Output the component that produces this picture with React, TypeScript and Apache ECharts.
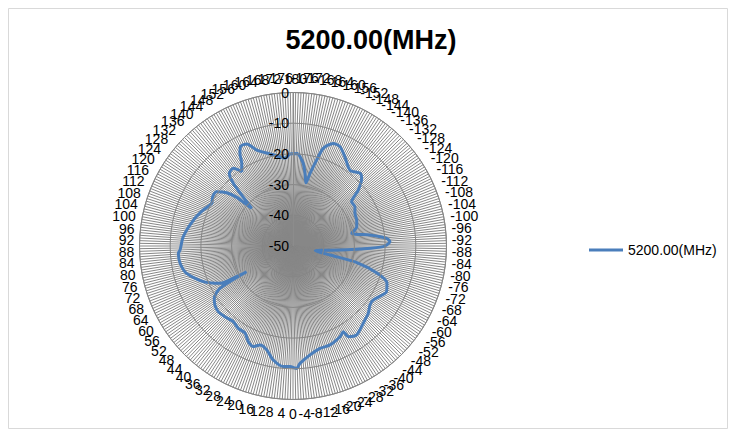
import React, { useEffect, useRef } from "react";
import * as echarts from "echarts";

// Angle (degrees) of each traced point and its gain (dB)
const angles: number[] = [
  -176.7, -172.9, -170.6, -168.4, -166.8, -164.6, -162.8, -158.6, -154.7, -149.8,
  -143.1, -137.3, -134.6, -130.6, -127.0, -122.4, -117.8, -112.2, -106.9, -102.2,
  -98.1, -94.7, -92.5, -89.6, -87.4, -85.1, -78.0, -76.3, -75.5, -72.2,
  -68.5, -64.0, -56.1, -52.5, -48.2, -42.3, -35.6, -31.4, -30.4, -27.4,
  -20.5, -14.8, -8.9, -3.4, -1.7, 1.4, 4.6, 9.8, 14.2, 18.4,
  21.5, 25.0, 28.8, 33.6, 38.3, 43.9, 48.7, 52.9, 56.4, 59.5,
  60.5, 61.0, 61.6, 62.9, 68.3, 75.6, 81.3, 86.4, 88.0, 94.8,
  104.6, 111.9, 117.7, 121.5, 125.4, 128.8, 130.9, 131.6, 132.4, 134.8,
  136.4, 138.8, 142.5, 145.4, 148.2, 150.2, 152.4, 155.6, 159.3, 166.0,
  171.7, 174.8, 178.1,
];
const gains: number[] = [
  -19.8, -22.9, -26.0, -29.0, -25.7, -20.9, -16.7, -14.1, -14.2, -16.4,
  -19.1, -17.8, -18.6, -22.0, -26.1, -26.1, -27.2, -27.6, -28.3, -30.4,
  -24.7, -19.4, -18.4, -20.6, -28.2, -34.6, -42.6, -37.6, -28.5, -21.3,
  -17.1, -16.1, -18.5, -18.4, -17.1, -16.0, -14.4, -15.4, -17.6, -16.7,
  -15.6, -15.5, -14.1, -11.7, -10.1, -10.7, -10.6, -12.3, -15.1, -16.0,
  -14.8, -15.6, -17.6, -17.8, -18.6, -18.0, -17.6, -18.1, -19.2, -21.8,
  -25.9, -32.7, -29.1, -23.3, -18.6, -14.2, -12.8, -12.6, -13.2, -14.1,
  -16.5, -18.5, -20.1, -19.3, -19.5, -22.3, -25.8, -29.1, -31.8, -26.4,
  -21.8, -18.5, -18.1, -20.6, -18.3, -15.2, -13.3, -13.5, -16.6, -19.1,
  -20.6, -21.3, -20.0,
];
// Angle category labels shown around the rim (every 4 degrees)
const angleLabels: number[] = [];
for (let a = -180; a < 180; a += 4) angleLabels.push(a);

const seriesName = "5200.00(MHz)";
const titleText = "5200.00(MHz)";
const radiusTicks = { min: -50, max: 0, step: 10 };
const angleRange = { min: -180, max: 180, step: 1 };

const FONT = "Liberation Sans, Arial, sans-serif";
const LABEL_SIZE = 14;

export default function App() {
  const ref = useRef<HTMLDivElement>(null);
  useEffect(() => {
    if (!ref.current) return;
    const chart = echarts.init(ref.current, undefined, { renderer: "svg" });
    const data: number[][] = angles.map((a, i) => [gains[i], a]);
    data.push([gains[0], angles[0] + 360]);

    const ctx = document.createElement("canvas").getContext("2d");
    const font = `${LABEL_SIZE}px ${FONT}`;
    const measure = (t: string) => {
      if (!ctx) return t.length * 7.5;
      ctx.font = font;
      return ctx.measureText(t).width;
    };

    chart.setOption({
      animation: false,
      backgroundColor: "#fff",
      title: {
        text: titleText,
        left: 358,
        top: 13,
        textAlign: "center",
        textStyle: { fontFamily: FONT, fontSize: 27, fontWeight: "bold", color: "#000" },
      },
      legend: {
        left: 576,
        top: 230,
        itemWidth: 34,
        itemHeight: 3,
        itemGap: 4,
        textStyle: { fontFamily: FONT, fontSize: 14, color: "#000" },
        data: [{ name: seriesName, icon: "rect" }],
      },
      graphic: [
        {
          type: "rect",
          shape: { x: 0.5, y: 0.5, width: 719, height: 420 },
          style: { fill: "none", stroke: "#d9d9d9", lineWidth: 1 },
          silent: true,
        },
      ],
      polar: { center: [285, 238], radius: 153.5 },
      angleAxis: {
        type: "value",
        min: angleRange.min,
        max: angleRange.max,
        interval: angleRange.step,
        startAngle: 90,
        clockwise: true,
        axisLine: { show: true, lineStyle: { color: "#8c8c8c", width: 1 } },
        axisTick: { show: false },
        splitLine: { show: true, lineStyle: { color: "#878787", width: 1 } },
        axisLabel: { show: false },
      },
      radiusAxis: {
        type: "value",
        min: radiusTicks.min,
        max: radiusTicks.max,
        interval: radiusTicks.step,
        axisLine: { show: true, lineStyle: { color: "#8c8c8c" } },
        axisTick: { show: false },
        splitLine: { show: true, lineStyle: { color: "#868686", width: 1 } },
        axisLabel: { fontFamily: FONT, fontSize: 14, color: "#000", margin: 4 },
        z: 10,
      },
      series: [
        {
          name: seriesName,
          type: "line",
          coordinateSystem: "polar",
          data,
          symbol: "none",
          smooth: 0.25,
          lineStyle: { color: "#4a7ebb", width: 3 },
          itemStyle: { color: "#4a7ebb" },
          z: 5,
        },
        {
          name: "angleLabels",
          type: "custom",
          coordinateSystem: "polar",
          silent: true,
          data: angleLabels.map((a) => [radiusTicks.max, a]),
          renderItem: (params: any, api: any) => {
            const ang = api.value(1);
            const p = api.coord([radiusTicks.max, ang]);
            const c = api.coord([radiusTicks.min, ang]);
            const dx = p[0] - c[0];
            const dy = p[1] - c[1];
            const len = Math.sqrt(dx * dx + dy * dy) || 1;
            const ux = dx / len;
            const uy = dy / len;
            const text = String(ang);
            const w = measure(text);
            const h = LABEL_SIZE;
            const d = 5 + Math.abs(ux) * (w / 2) + Math.abs(uy) * (h / 2 + 2);
            return {
              type: "text",
              x: p[0] + ux * d,
              y: p[1] + uy * d,
              style: {
                text,
                fill: "#000",
                font,
                align: "center",
                verticalAlign: "middle",
              },
            };
          },
          z: 6,
        },
      ],
    });
    return () => chart.dispose();
  }, []);
  return <div ref={ref} style={{ width: 720, height: 421 }} />;
}
